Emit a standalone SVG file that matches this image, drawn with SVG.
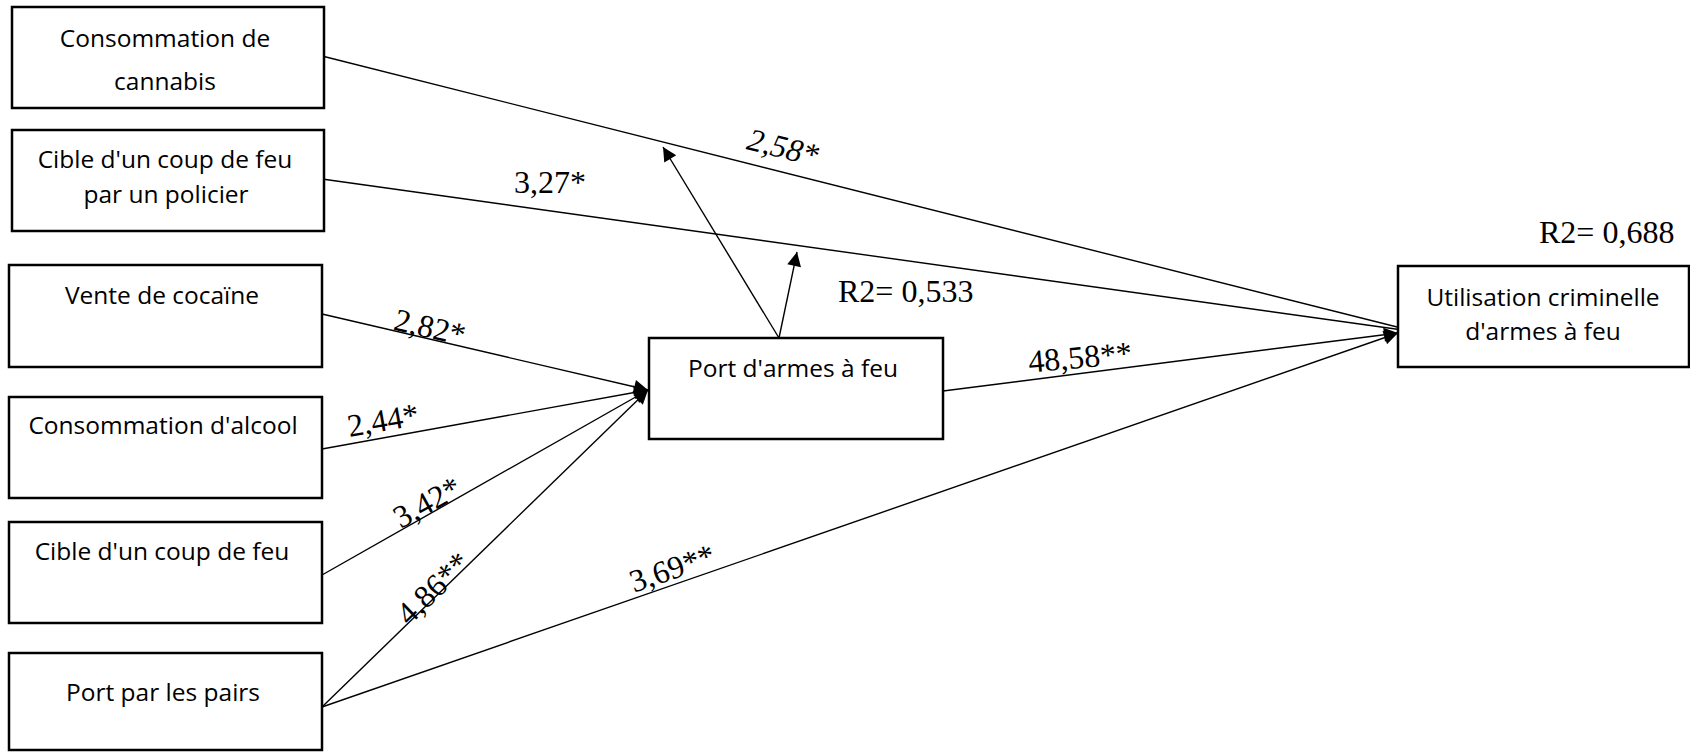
<svg xmlns="http://www.w3.org/2000/svg" width="1690" height="752" viewBox="0 0 1690 752">
<style>
.box{fill:#fff;stroke:#000;stroke-width:2.5}
.lbl{font-family:"Open Sans",sans-serif;font-size:24.5px;fill:#000;text-anchor:middle}
.num{font-family:"Liberation Serif",serif;font-size:32px;fill:#000;text-anchor:middle}
.r2{font-family:"Liberation Serif",serif;font-size:32px;fill:#000}
.ln{stroke:#000;stroke-width:1.4;fill:none;marker-end:url(#ah)}
</style>
<defs>
<marker id="ah" viewBox="0 0 10 10" refX="10" refY="5" markerWidth="17" markerHeight="14" markerUnits="userSpaceOnUse" orient="auto">
<path d="M0,0 L10,5 L0,10 z" fill="#000"/>
</marker>
</defs>
<rect width="1690" height="752" fill="#fff"/>
<g id="connectors">
<line class="ln" x1="322" y1="56" x2="1417" y2="332"/>
<line class="ln" x1="322" y1="179" x2="1417" y2="332"/>
<line class="ln" x1="322" y1="314" x2="648" y2="390"/>
<line class="ln" x1="322" y1="449" x2="648" y2="390"/>
<line class="ln" x1="322" y1="575" x2="648" y2="390"/>
<line class="ln" x1="322" y1="707" x2="648" y2="390"/>
<line class="ln" x1="322" y1="707" x2="1398" y2="333"/>
<line class="ln" x1="943" y1="391" x2="1398" y2="333"/>
<line class="ln" x1="779" y1="338" x2="663" y2="147"/>
<line class="ln" x1="779" y1="338" x2="797" y2="252"/>
</g>
<g id="edge-labels">
<text class="num" font-style="italic" transform="translate(783,147) rotate(14)" y="11">2,58*</text>
<text class="num" x="550" y="193">3,27*</text>
<text class="num" transform="translate(430,327) rotate(13)" y="11">2,82*</text>
<text class="num" transform="translate(383,420) rotate(-10)" y="11">2,44*</text>
<text class="num" transform="translate(427,502) rotate(-29)" y="11">3,42*</text>
<text class="num" transform="translate(433,588) rotate(-44)" y="11">4,86**</text>
<text class="num" transform="translate(672,568) rotate(-19)" y="11">3,69**</text>
<text class="num" transform="translate(1080,357) rotate(-5)" y="11">48,58**</text>
<text class="r2" x="838" y="302">R2= 0,533</text>
<text class="r2" x="1539" y="243">R2= 0,688</text>
</g>
<g id="n-cannabis">
<rect class="box" x="12" y="7" width="312" height="101"/>
<text class="lbl" x="165" y="47">Consommation de</text>
<text class="lbl" x="165" y="90">cannabis</text>
</g>
<g id="n-policier">
<rect class="box" x="12" y="130" width="312" height="101"/>
<text class="lbl" x="165" y="168">Cible d'un coup de feu</text>
<text class="lbl" x="166" y="203">par un policier</text>
</g>
<g id="n-cocaine">
<rect class="box" x="9" y="265" width="313" height="102"/>
<text class="lbl" x="162" y="304">Vente de cocaïne</text>
</g>
<g id="n-alcool">
<rect class="box" x="9" y="397" width="313" height="101"/>
<text class="lbl" x="163" y="434">Consommation d'alcool</text>
</g>
<g id="n-cible">
<rect class="box" x="9" y="522" width="313" height="101"/>
<text class="lbl" x="162" y="560">Cible d'un coup de feu</text>
</g>
<g id="n-pairs">
<rect class="box" x="9" y="653" width="313" height="97"/>
<text class="lbl" x="163" y="701">Port par les pairs</text>
</g>
<g id="n-port">
<rect class="box" x="649" y="338" width="294" height="101"/>
<text class="lbl" x="793" y="377">Port d'armes à feu</text>
</g>
<g id="n-utilisation">
<rect class="box" x="1398" y="266" width="291" height="101"/>
<text class="lbl" x="1543" y="306">Utilisation criminelle</text>
<text class="lbl" x="1543" y="340">d'armes à feu</text>
</g>
</svg>
